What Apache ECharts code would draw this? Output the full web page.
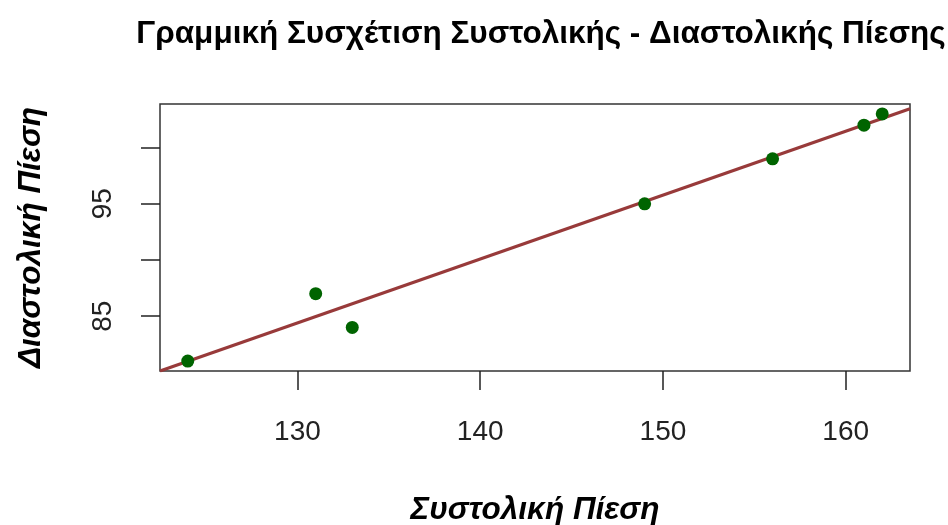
<!DOCTYPE html>
<html>
<head>
<meta charset="utf-8">
<script src="https://cdn.jsdelivr.net/npm/echarts@6/dist/echarts.min.js"></script>
<style>html,body{margin:0;padding:0;background:#fff}#c{width:948px;height:525px}</style>
</head>
<body>
<div id="c"></div>
<script>
const systolic = [124, 131, 133, 149, 156, 161, 162];
const diastolic = [81, 87, 84, 95, 99, 102, 103];
const xTicks = [130, 140, 150, 160];
const yTicks = [85, 90, 95, 100];
const yTickLabels = [85, 95];
const titleText = 'Γραμμική Συσχέτιση Συστολικής - Διαστολικής Πίεσης';
const xTitle = 'Συστολική Πίεση';
const yTitle = 'Διαστολική Πίεση';

// R-style axis ranges (4% extension)
function rng(a){const lo=Math.min(...a),hi=Math.max(...a),d=(hi-lo)*0.04;return [lo-d,hi+d];}
const [xmin,xmax]=rng(systolic), [ymin,ymax]=rng(diastolic);
// least squares fit
const n=systolic.length;
const mx=systolic.reduce((s,v)=>s+v,0)/n, my=diastolic.reduce((s,v)=>s+v,0)/n;
let sxy=0,sxx=0;for(let i=0;i<n;i++){sxy+=(systolic[i]-mx)*(diastolic[i]-my);sxx+=(systolic[i]-mx)**2;}
const b=sxy/sxx, a=my-b*mx;
const fit=[[xmin,a+b*xmin],[xmax,a+b*xmax]];

const font='"Liberation Sans", Arial, sans-serif';
const chart=echarts.init(document.getElementById('c'),null,{renderer:'canvas'});
chart.setOption({
  animation:false,
  title:{text:titleText,left:536,textAlign:'center',top:13,
    textStyle:{fontFamily:font,fontWeight:'bold',fontSize:31.5,color:'#000'}},
  grid:{left:160,right:38,top:104,bottom:154,show:true,borderColor:'#333',borderWidth:1.5,
    backgroundColor:'transparent',containLabel:false,outerBoundsMode:'none'},
  xAxis:{type:'value',min:xmin,max:xmax,
    name:xTitle,nameLocation:'middle',nameGap:123,
    nameTextStyle:{fontFamily:font,fontWeight:'bold',fontStyle:'italic',fontSize:31.5,color:'#000'},
    axisLine:{show:false},splitLine:{show:false},
    axisTick:{show:true,inside:false,length:19,customValues:xTicks,lineStyle:{color:'#222',width:1.5}},
    axisLabel:{customValues:xTicks,fontFamily:font,fontSize:28,color:'#222',margin:47}},
  yAxis:{type:'value',min:ymin,max:ymax,
    name:yTitle,nameLocation:'middle',nameGap:113,nameRotate:90,
    nameTextStyle:{fontFamily:font,fontWeight:'bold',fontStyle:'italic',fontSize:31.5,color:'#000'},
    axisLine:{show:false},splitLine:{show:false},
    axisTick:{show:true,inside:false,length:19,customValues:yTicks,lineStyle:{color:'#222',width:1.5}},
    axisLabel:{customValues:yTickLabels,rotate:90,fontFamily:font,fontSize:28,color:'#222',margin:43}},
  series:[
    {type:'line',data:fit,showSymbol:false,symbol:'none',clip:true,
      lineStyle:{color:'#983a3a',width:3.2},z:2,silent:true},
    {type:'scatter',data:systolic.map((x,i)=>[x,diastolic[i]]),symbol:'circle',symbolSize:13,
      itemStyle:{color:'#006400',opacity:1},z:3}
  ]
});
</script>
</body>
</html>
